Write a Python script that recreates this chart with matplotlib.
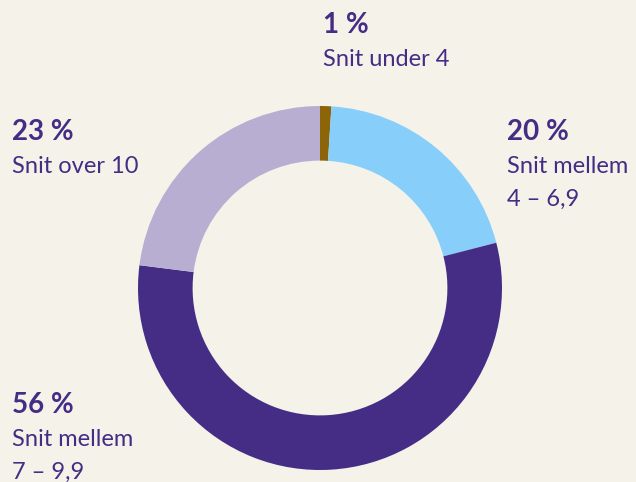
import matplotlib.pyplot as plt

labels = ["Snit under 4", "Snit mellem\n4 – 6,9", "Snit mellem\n7 – 9,9", "Snit over 10"]
values = [1, 20, 56, 23]
colors = ["#8B6508", "#87CEFA", "#452C84", "#B8AED2"]

bg = "#F5F2EA"
txt = "#452C84"
plt.rcParams['font.family'] = ['Lato', 'DejaVu Sans']

W, H = 636, 482
fig = plt.figure(figsize=(W / 100, H / 100), dpi=100, facecolor=bg)

cx, cy, r = 320, 288, 182
ax = fig.add_axes([(cx - r) / W, (H - cy - r) / H, 2 * r / W, 2 * r / H])
ax.pie(values, colors=colors, startangle=90, counterclock=False,
       wedgeprops=dict(width=0.30, linewidth=0))
ax.set_xlim(-1, 1)
ax.set_ylim(-1, 1)
ax.set_aspect('equal')
ax.set_facecolor(bg)

# label anchors in pixels from top-left: (x, baseline of percent line)
anchors = [(323, 33), (507, 140), (12, 413), (12, 140)]
for val, lab, (x, y) in zip(values, labels, anchors):
    fig.text(x / W, 1 - y / H, f"{val} %", color=txt, fontsize=20,
             fontweight='bold', va='baseline', ha='left')
    for i, line in enumerate(lab.split("\n")):
        fig.text(x / W, 1 - (y + 33 * (i + 1)) / H, line, color=txt,
                 fontsize=17, va='baseline', ha='left')

fig.savefig("out.png", dpi=100, facecolor=bg)
